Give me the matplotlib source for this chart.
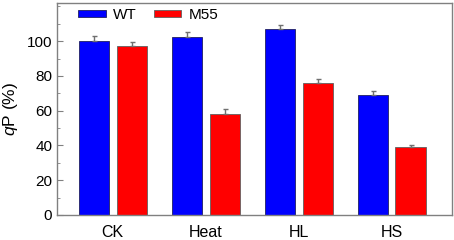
import matplotlib
matplotlib.use("Agg")
import matplotlib.pyplot as plt
import numpy as np

plt.rcParams['font.family'] = ['Liberation Sans', 'DejaVu Sans']
plt.rcParams['mathtext.fontset'] = 'custom'
plt.rcParams['mathtext.it'] = 'Liberation Sans:italic'
plt.rcParams['mathtext.rm'] = 'Liberation Sans'

categories = ["CK", "Heat", "HL", "HS"]
wt_values = [100.0, 102.5, 107.0, 69.0]
wt_errors = [3.2, 3.0, 2.3, 2.2]
m55_values = [97.5, 58.0, 76.0, 39.0]
m55_errors = [2.2, 3.0, 2.5, 1.3]

x = np.arange(len(categories))
width = 0.325
offset = 0.204

fig = plt.figure(figsize=(4.54, 2.4), dpi=100)
ax = fig.add_axes([57 / 454, 25 / 240, 395 / 454, 212 / 240])

err_kw = dict(ecolor='#707070', elinewidth=1, capsize=1.8, capthick=1)
zeros = np.zeros(len(categories))
ax.bar(x - offset, wt_values, width, color='#0000ff', edgecolor='#202060', linewidth=0.6,
       yerr=[zeros, wt_errors], error_kw=err_kw, label='WT')
ax.bar(x + offset, m55_values, width, color='#ff0000', edgecolor='#606060', linewidth=0.6,
       yerr=[zeros, m55_errors], error_kw=err_kw, label='M55')

ax.set_xlim(-0.6, 3.65)
ax.set_ylim(0, 122)
ax.set_yticks(np.arange(0, 101, 20))
ax.set_yticks(np.arange(0, 121, 10), minor=True)
ax.tick_params(axis='y', which='major', direction='in', length=4, labelsize=11, colors='#808080', labelcolor='black')
ax.tick_params(axis='y', which='minor', direction='in', length=2.5, colors='#808080')
ax.set_xticks(x)
ax.set_xticklabels(categories)
ax.tick_params(axis='x', length=0, labelsize=11.5, pad=7)
for s in ax.spines.values():
    s.set_color('#808080')
    s.set_linewidth(1)

ax.set_ylabel('$q$P (%)', fontsize=12.5, labelpad=5)
ax.legend(loc='upper left', ncol=2, frameon=False, fontsize=11, handlelength=1.8, handleheight=0.35,
          columnspacing=1.15, handletextpad=0.46, borderpad=0, borderaxespad=0,
          bbox_to_anchor=(78 / 454, 232 / 240), bbox_transform=fig.transFigure)

fig.savefig("out.png", dpi=100)
